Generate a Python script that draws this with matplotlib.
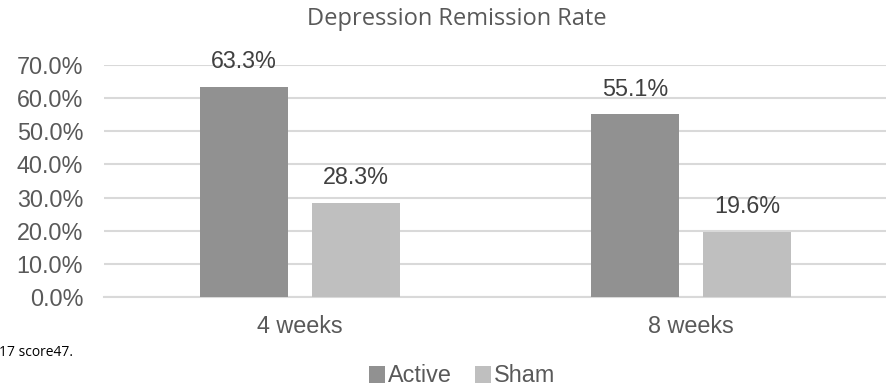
import matplotlib
matplotlib.use("Agg")
import matplotlib.pyplot as plt
from matplotlib.patches import Patch
import numpy as np

# Data
categories = ["4 weeks", "8 weeks"]
series_names = ["Active", "Sham"]
active = [63.3, 55.1]
sham = [28.3, 19.6]
y_ticks = [0, 10, 20, 30, 40, 50, 60, 70]

colors = {"Active": "#919191", "Sham": "#bfbfbf"}
text_gray = "#595959"
grid_gray = "#d9d9d9"
fs = 16.8

W, H = 887, 386
fig = plt.figure(figsize=(W / 100, H / 100), dpi=100)
ax = fig.add_axes([104 / W, (H - 297) / H, (W - 104) / W + 0.01, (297 - 65) / H])

x = np.arange(len(categories))
bw = 0.225
offset = 0.143
series = {"Active": active, "Sham": sham}
for name, off in zip(series_names, (-offset, offset)):
    vals = series[name]
    bars = ax.bar(x + off, vals, width=bw, color=colors[name], zorder=3)
    for rect, v in zip(bars, vals):
        ax.annotate(f"{v:.1f}%", (rect.get_x() + rect.get_width() / 2, v),
                    xytext=(0, 13.5), textcoords="offset points",
                    ha="center", va="baseline", fontsize=fs,
                    family="Liberation Sans", color="#404040")

ax.set_xlim(-0.5, 1.5 + 0.01 * 2 / ((W - 104) / W))
ax.set_ylim(0, 70)
ax.set_yticks(y_ticks)
ax.set_yticklabels([f"{t:.1f}%" for t in y_ticks])
ax.set_xticks(x)
ax.set_xticklabels(categories)
ax.yaxis.grid(True, color=grid_gray, linewidth=1.5, zorder=0)
ax.set_axisbelow(True)
for s in ("top", "right", "left"):
    ax.spines[s].set_visible(False)
ax.spines["bottom"].set_color(grid_gray)
ax.spines["bottom"].set_linewidth(1.5)
ax.tick_params(axis="both", length=0, labelsize=fs, labelcolor=text_gray)
ax.tick_params(axis="y", pad=15)
ax.tick_params(axis="x", pad=13)
for lbl in ax.get_xticklabels() + ax.get_yticklabels():
    lbl.set_family("Liberation Sans")

fig.text(457 / W, 1 - 25 / H, "Depression Remission Rate", ha="center", va="baseline",
         fontsize=17, family="Open Sans", color=text_gray)

handles = [Patch(facecolor=colors[n], edgecolor="none") for n in series_names]
leg = fig.legend(handles, series_names, loc="center", bbox_to_anchor=(462 / W, 1 - 376 / H),
                 ncol=2, frameon=False, handlelength=0.7, handleheight=0.7,
                 handletextpad=0.1, columnspacing=1.0,
                 prop={"family": "Liberation Sans", "size": fs})
for t in leg.get_texts():
    t.set_color(text_gray)

fig.text(-1 / W, 1 - 352 / H, "17 score47.", ha="left", va="center",
         fontsize=10, family="Open Sans", color="black")

fig.savefig("out.png", dpi=100)
